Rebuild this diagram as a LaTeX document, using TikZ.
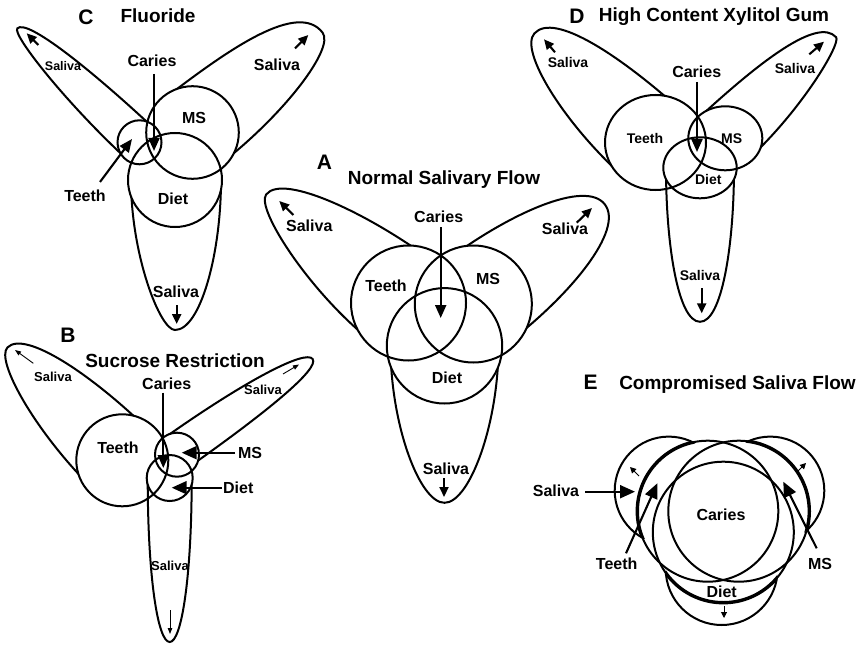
\documentclass[tikz,border=0pt]{standalone}
\usepackage{fontspec}
\setmainfont{Liberation Sans}
\usetikzlibrary{arrows.meta}
% lobe: cx cy angle length Wccw Wcw rccw rcw k
\newcommand\lobe[9]{%
 \draw[lobeline,shift={(#1,#2)},rotate=#3] (0,-#5) .. controls ({#9*#4},-#5) and (#4,-#7) .. (#4,0) .. controls (#4,#8) and ({#9*#4},#6) .. (0,#6);}
\newcommand\outclip[1]{\clip (-20,-20) rectangle (900,700) #1;}
\tikzset{
 every node/.style={inner sep=0pt, text depth=0pt},
 lab/.style={font=\fontsize{16}{16}\selectfont\bfseries, text height=11.5pt},
 labs/.style={font=\fontsize{14}{14}\selectfont\bfseries, text height=10pt},
 labxs/.style={font=\fontsize{13}{13}\selectfont\bfseries, text height=9.3pt},
 ttl/.style={font=\fontsize{19}{19}\selectfont\bfseries, text height=13.6pt},
 letter/.style={font=\fontsize{21}{21}\selectfont\bfseries, text height=15pt},
 ring/.style={line width=2pt},
 lobeline/.style={line width=2pt},
 bigarrow/.style={line width=2.1pt, -{Triangle[length=13pt,width=11pt]}},
 medarrow/.style={line width=2.1pt, -{Triangle[length=10pt,width=9pt]}},
 hugearrow/.style={line width=2.1pt, -{Triangle[length=15pt,width=13pt]}},
 thinarrow/.style={line width=0.9pt, -{Triangle[length=6pt,width=4.5pt]}},
 tinyarrow/.style={line width=1pt, -{Triangle[length=6pt,width=6pt]}},
 thickarc/.style={line width=3.4pt},
}
\begin{document}
\begin{tikzpicture}[x=1pt,y=-1pt]
\useasboundingbox (0,0) rectangle (861,647);
\fill[white] (0,0) rectangle (861,647);

% ================= A =================
\begin{scope}[even odd rule]\outclip{(408.5,303) circle (57.5pt)}
 \lobe{408.5}{303}{142.7}{179}{53}{48}{18}{28}{0.45}
\end{scope}
\begin{scope}[even odd rule]\outclip{(473.3,304) circle (58.5pt)}
 \lobe{473.3}{304}{37.1}{165}{51}{52}{32}{32}{0.5}
\end{scope}
\begin{scope}[even odd rule]\outclip{(444.5,345.8) circle (57.7pt)}
 \lobe{444.5}{345.8}{-90}{157}{54}{54}{25}{25}{0.5}
\end{scope}
\draw[ring] (408.5,303) circle (57.5pt);
\draw[ring] (473.3,304) circle (58.5pt);
\draw[ring] (444.5,345.8) circle (57.7pt);
\node[letter] (Aletter) at (324.5,162.5) {A};
\node[ttl] (Atitle) at (444,177.3) {Normal Salivary Flow};
\node[lab] (Acar) at (438.7,217) {Caries};
\node[lab] (Ateeth) at (386,286) {Teeth};
\node[lab] (Ams) at (488,279) {MS};
\node[lab] (Adiet) at (447,378) {Diet};
\node[lab] (Asl) at (309.3,226) {Saliva};
\node[lab] (Asr) at (565,229) {Saliva};
\node[lab] (Asb) at (446,469) {Saliva};
\coordinate (Acs) at (440.7,227); \coordinate (Ace) at (440.7,318);
\coordinate (Als) at (293.3,215); \coordinate (Ale) at (279.3,201);
\coordinate (Ars) at (576.7,222.7); \coordinate (Are) at (592,208);
\coordinate (Abs) at (444,478); \coordinate (Abe) at (444,497);
\draw[bigarrow] (Acs) -- (Ace);
\draw[medarrow] (Als) -- (Ale);
\draw[medarrow] (Ars) -- (Are);
\draw[medarrow] (Abs) -- (Abe);

% ================= C =================
\begin{scope}[even odd rule]\outclip{(139.5,142.3) circle (22pt)}
 \lobe{139.5}{142.3}{137}{167}{21}{20}{8}{14}{0.5}
\end{scope}
\begin{scope}[even odd rule]\outclip{(192.5,132.5) circle (46.3pt)}
 \lobe{192.5}{132.5}{37.5}{164}{44}{42}{40}{20}{0.5}
\end{scope}
\begin{scope}[even odd rule]\outclip{(175,180) circle (47pt)}
 \lobe{175}{180}{-90}{150}{46}{44}{25}{15}{0.5}
\end{scope}
\draw[ring] (139.5,142.3) circle (22pt);
\draw[ring] (192.5,132.5) circle (46.3pt);
\draw[ring] (175,180) circle (47pt);
\node[letter] (Cletter) at (86,17) {C};
\node[ttl] (Ctitle) at (158,16) {Fluoride};
\node[lab] (Ccar) at (152,61) {Caries};
\node[lab] (Cms) at (194,118) {MS};
\node[lab] (Cdiet) at (173,199) {Diet};
\node[lab] (Cteeth) at (85,196) {Teeth};
\node[font=\fontsize{12.5}{12.5}\selectfont\bfseries, text height=9pt] (Csl) at (63,66) {Saliva};
\node[lab] (Csr) at (277,65) {Saliva};
\node[lab] (Csb) at (176,292) {Saliva};
\coordinate (Ccs) at (154,74); \coordinate (Cce) at (154,151);
\coordinate (Cts) at (100,182); \coordinate (Cte) at (132,139);
\coordinate (Cls) at (38.3,45); \coordinate (Cle) at (26.7,33.3);
\coordinate (Crs) at (295,48.3); \coordinate (Cre) at (308.3,35);
\coordinate (Cbs) at (176.7,305); \coordinate (Cbe) at (176.7,324);
\draw[bigarrow] (Ccs) -- (Cce);
\draw[bigarrow] (Cts) -- (Cte);
\draw[medarrow] (Cls) -- (Cle);
\draw[medarrow] (Crs) -- (Cre);
\draw[medarrow] (Cbs) -- (Cbe);

% ================= D =================
\begin{scope}[even odd rule]\outclip{(655.5,142.5) ellipse [x radius=50.5pt, y radius=47.5pt]}
 \lobe{655.5}{142.5}{138}{163}{47}{41}{23}{30}{0.5}
\end{scope}
\begin{scope}[even odd rule]\outclip{(725.3,138.3) ellipse [x radius=37pt, y radius=32pt]}
 \lobe{725.3}{138.3}{42.4}{150}{33}{31}{28}{8}{0.5}
\end{scope}
\begin{scope}[even odd rule]\outclip{(700,167.8) ellipse [x radius=36.7pt, y radius=30.5pt]}
 \lobe{700}{167.8}{-90}{154}{34}{34}{22}{22}{0.5}
\end{scope}
\draw[ring] (655.5,142.5) ellipse [x radius=50.5pt, y radius=47.5pt];
\draw[ring] (725.3,138.3) ellipse [x radius=37pt, y radius=32pt];
\draw[ring] (700,167.8) ellipse [x radius=36.7pt, y radius=30.5pt];
\node[letter] (Dletter) at (577,16) {D};
\node[ttl] (Dtitle) at (714,15) {High Content Xylitol Gum};
\node[lab] (Dcar) at (696.7,72) {Caries};
\node[labs] (Dteeth) at (645,138.3) {Teeth};
\node[labs] (Dms) at (731.7,138.3) {MS};
\node[labs] (Ddiet) at (708.3,179.3) {Diet};
\node[labs] (Dsl) at (568,63) {Saliva};
\node[labs] (Dsr) at (795,69) {Saliva};
\node[labs] (Dsb) at (700,275) {Saliva};
\coordinate (Dcs) at (697,82); \coordinate (Dce) at (697,152);
\coordinate (Dls) at (555,52.3); \coordinate (Dle) at (544,39.3);
\coordinate (Drs) at (809.3,54.3); \coordinate (Dre) at (824,41.7);
\coordinate (Dbs) at (701.7,288.3); \coordinate (Dbe) at (701.7,313.3);
\draw[bigarrow] (Dcs) -- (Dce);
\draw[medarrow] (Dls) -- (Dle);
\draw[medarrow] (Drs) -- (Dre);
\draw[medarrow] (Dbs) -- (Dbe);

% ================= B =================
\begin{scope}[even odd rule]\outclip{(122.3,460.3) circle (46pt)}
 \lobe{122.3}{460.3}{135.5}{161}{41}{40}{18}{25}{0.5}
\end{scope}
\begin{scope}[even odd rule]\outclip{(177,454.7) circle (22pt)}
 \lobe{177}{454.7}{35.2}{166}{21}{17}{12}{12}{0.6}
\end{scope}
\begin{scope}[even odd rule]\outclip{(169.7,478) circle (23pt)}
 \lobe{169.7}{478}{-90}{164}{22}{22}{12}{12}{0.6}
\end{scope}
\draw[ring] (122.3,460.3) circle (46pt);
\draw[ring] (177,454.7) circle (22pt);
\draw[ring] (169.7,478) circle (23pt);
\node[letter] (Bletter) at (68,335) {B};
\node[ttl] (Btitle) at (175,361) {Sucrose Restriction};
\node[lab] (Bcar) at (166.7,383.3) {Caries};
\node[lab] (Bteeth) at (118,447.7) {Teeth};
\node[lab] (Bms) at (250,452.7) {MS};
\node[lab] (Bdiet) at (238.3,487.7) {Diet};
\node[labxs] (Bsl) at (53,377) {Saliva};
\node[labxs] (Bsr) at (263,390) {Saliva};
\node[labxs] (Bsb) at (170,566) {Saliva};
\coordinate (Bcs) at (163.3,392.7); \coordinate (Bce) at (163.3,468);
\coordinate (Bms1) at (235,452.7); \coordinate (Bme) at (181.7,452.7);
\coordinate (Bds) at (221.7,487.7); \coordinate (Bde) at (171.7,487.7);
\coordinate (Bls) at (33.3,363.3); \coordinate (Ble) at (15,350);
\coordinate (Brs) at (283,374); \coordinate (Bre) at (299,364.5);
\coordinate (Bbs) at (170,610); \coordinate (Bbe) at (170,634);
\draw[bigarrow] (Bcs) -- (Bce);
\draw[hugearrow] (Bms1) -- (Bme);
\draw[hugearrow] (Bds) -- (Bde);
\draw[thinarrow] (Bls) -- (Ble);
\draw[thinarrow] (Brs) -- (Bre);
\draw[thinarrow] (Bbs) -- (Bbe);

% ================= E =================
\begin{scope}[even odd rule]\outclip{(707.8,511.2) circle (70.5pt)}
 \draw[ring] (668.7,490.6) circle (54pt);
\end{scope}
\begin{scope}[even odd rule]\outclip{(738.8,511.2) circle (70.5pt)}
 \draw[ring] (770.3,490.6) circle (54pt);
\end{scope}
\begin{scope}[even odd rule]\outclip{(723.3,532.2) circle (70.5pt)}
 \draw[ring] (721.7,569) circle (56pt);
\end{scope}
\draw[ring] (707.8,511.2) circle (70.5pt);
\draw[ring] (738.8,511.2) circle (70.5pt);
\draw[ring] (723.3,532.2) circle (70.5pt);
\begin{scope}\clip (668.7,490.6) circle (54pt);
 \draw[thickarc] (707.8,511.2) circle (70.5pt);
\end{scope}
\begin{scope}\clip (770.3,490.6) circle (54pt);
 \draw[thickarc] (738.8,511.2) circle (70.5pt);
\end{scope}
\begin{scope}\clip (721.7,569) circle (56pt);
 \draw[thickarc] (723.3,532.2) circle (70.5pt);
\end{scope}
\node[letter] (Eletter) at (590.7,382.3) {E};
\node[ttl] (Etitle) at (737.5,382.3) {Compromised Saliva Flow};
\node[lab] (Ecar) at (721,515) {Caries};
\node[lab] (Ediet) at (721.7,591.7) {Diet};
\node[lab] (Eteeth) at (616.7,564) {Teeth};
\node[lab] (Ems) at (820,563.3) {MS};
\node[lab] (Esal) at (556,490.7) {Saliva};
\coordinate (Ess) at (585,491.7); \coordinate (Ese) at (635,491.7);
\coordinate (Ets) at (626,553.3); \coordinate (Ete) at (657.3,483.3);
\coordinate (Ems1) at (816.7,548.3); \coordinate (Eme) at (783.3,481.7);
\coordinate (Els) at (639,476); \coordinate (Ele) at (630,467);
\coordinate (Ers) at (797,472); \coordinate (Ere) at (806,463);
\coordinate (Ebs) at (724,606); \coordinate (Ebe) at (724,618);
\draw[hugearrow] (Ess) -- (Ese);
\draw[hugearrow] (Ets) -- (Ete);
\draw[hugearrow] (Ems1) -- (Eme);
\draw[tinyarrow] (Els) -- (Ele);
\draw[tinyarrow] (Ers) -- (Ere);
\draw[tinyarrow] (Ebs) -- (Ebe);
\end{tikzpicture}
\end{document}
